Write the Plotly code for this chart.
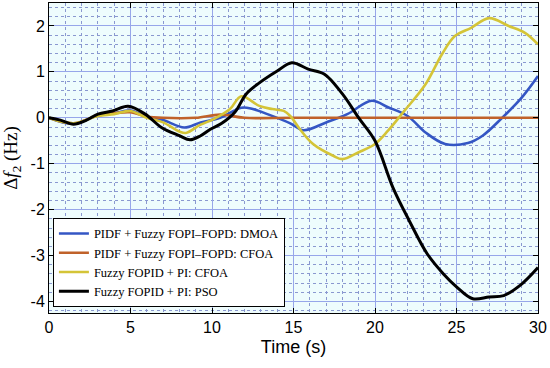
import plotly.graph_objects as go

# Data
names = ["PIDF + Fuzzy FOPI\u2013FOPD: DMOA",
         "PIDF + Fuzzy FOPI\u2013FOPD: CFOA",
         "Fuzzy FOPID + PI: CFOA",
         "Fuzzy FOPID + PI: PSO"]

t_dmoa = [0, 1.5, 3, 4, 5, 6, 7, 8.3, 9.3, 10.5, 11.8, 12.5, 13.4, 14.8, 15.6, 17, 18.3,
          19.8, 20.8, 22, 23.1, 24.3, 25.7, 26.6, 27.8, 29, 30]
v_dmoa = [0, -0.13, 0.05, 0.1, 0.16, 0.02, -0.05, -0.21, -0.1, 0.0, 0.22, 0.19, 0.08,
          -0.12, -0.27, -0.1, 0.08, 0.37, 0.23, 0.04, -0.32, -0.57, -0.55, -0.39, 0.0, 0.44, 0.91]

t_cfoa1 = [0, 1.5, 3, 4, 5, 6, 7, 9, 10.5, 12, 15, 20, 25, 30]
v_cfoa1 = [0, -0.12, 0.05, 0.1, 0.12, 0.03, 0.0, 0.0, 0.07, 0.0, 0.0, 0.0, 0.0, 0.0]

t_cfoa2 = [0, 1.5, 3, 4, 5, 6, 7, 8, 8.4, 9.3, 10.1, 11.1, 11.8, 12.9, 13.7, 14.4, 14.8, 15.4,
           16.2, 17.4, 18, 19, 20, 20.8, 21.8, 23.1, 24.1, 24.9, 25.9, 27, 28.2, 29.2, 30]
v_cfoa2 = [0, -0.12, 0.04, 0.08, 0.15, 0.0, -0.1, -0.3, -0.33, -0.15, -0.03, 0.19, 0.47,
           0.26, 0.19, 0.15, 0.04, -0.25, -0.57, -0.82, -0.9, -0.75, -0.57, -0.28, 0.15, 0.73,
           1.38, 1.78, 1.96, 2.17, 2.0, 1.85, 1.6]

t_pso = [0, 0.7, 1.5, 2.3, 3, 3.9, 4.85, 5.9, 6.9, 8.0, 8.65, 9.3, 9.9, 10.6, 11.4, 12.1,
         12.9, 14.0, 14.9, 15.9, 16.9, 18, 19, 20, 21.1, 22.1, 23.2, 24.2, 25, 26, 27, 27.9,
         28.9, 30]
v_pso = [0, -0.05, -0.14, -0.05, 0.08, 0.15, 0.25, 0.08, -0.21, -0.39, -0.48, -0.39,
         -0.25, -0.12, 0.12, 0.52, 0.76, 1.02, 1.2, 1.06, 0.95, 0.52, 0.0, -0.5, -1.52,
         -2.24, -2.96, -3.4, -3.68, -3.94, -3.9, -3.87, -3.65, -3.26]

x_ticks = [0, 5, 10, 15, 20, 25, 30]
y_ticks = [-4, -3, -2, -1, 0, 1, 2]

colors = ["#3456c4", "#c0622a", "#d4c437", "#000000"]
widths = [2.6, 2.6, 2.6, 3]
series = [(t_dmoa, v_dmoa), (t_cfoa1, v_cfoa1), (t_cfoa2, v_cfoa2), (t_pso, v_pso)]

fig = go.Figure()
for (tx, vy), nm, c, w in zip(series, names, colors, widths):
    fig.add_trace(go.Scatter(x=tx, y=vy, mode="lines", name=nm,
                             line=dict(color=c, width=w, shape="spline", smoothing=1.0)))

axis_common = dict(
    showline=True, linecolor="black", linewidth=1, mirror="ticks",
    ticks="inside", ticklen=5, tickcolor="black", tickwidth=1,
    showgrid=True, gridcolor="#97a6ea", gridwidth=1, zeroline=False,
    tickfont=dict(family="Liberation Sans, Arial", size=16, color="black"),
)

fig.update_xaxes(range=[0, 30], tickvals=x_ticks, ticktext=[str(v) for v in x_ticks],
                 minor=dict(dtick=1, showgrid=True, gridcolor="#8a98d0", griddash="dot", gridwidth=1, ticks=""),
                 title=dict(text="Time (s)", font=dict(family="Liberation Sans, Arial", size=18, color="black"), standoff=5),
                 **axis_common)
fig.update_yaxes(range=[-4.25, 2.5], tickvals=y_ticks, ticktext=[str(v) for v in y_ticks],
                 minor=dict(dtick=0.2, tick0=0, showgrid=True, gridcolor="#8a98d0", griddash="dot", gridwidth=1, ticks=""),
                 title=dict(text="\u0394<i>f</i><sub>2</sub> (Hz)", font=dict(family="Liberation Serif, Times New Roman", size=19, color="black"), standoff=7),
                 **axis_common)

fig.update_layout(
    width=550, height=368,
    margin=dict(l=49, r=12, t=3, b=55),
    paper_bgcolor="white", plot_bgcolor="#eefcfd",
    showlegend=True,
    legend=dict(x=0.008, y=0.02, xanchor="left", yanchor="bottom",
                bgcolor="white", bordercolor="black", borderwidth=1,
                font=dict(family="Liberation Serif, Times New Roman", size=12.5, color="black"),
                tracegroupgap=0, itemwidth=30),
)

fig.write_html("out.html", config={"displayModeBar": False},
               post_script="document.body.style.margin='0';")
